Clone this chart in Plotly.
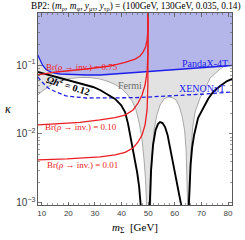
import plotly.graph_objects as go

# ---- data (m_Sigma [GeV], kappa) ----
panda_m = [8.5, 9.36, 10.38, 11.62, 13.87, 16.88, 20.64, 26.65, 31.92, 41.32, 50.71, 61.2, 69.51, 78.91, 81.6]
panda_k = [0.1396, 0.118, 0.0984, 0.0861, 0.0778, 0.0741, 0.0729, 0.0716, 0.0716, 0.0760, 0.0800, 0.0847, 0.0890, 0.0951, 0.0984]

xenon_m = [8.5, 10.1, 12.4, 15.38, 19.1, 26.65, 45.45, 60.1, 71.39, 81.6]
xenon_k = [0.0670, 0.0567, 0.0464, 0.0406, 0.0356, 0.0332, 0.0336, 0.0356, 0.0380, 0.0406]

fermi_m = [8.5, 11.24, 13.87, 16.88, 20.64, 24.40, 28.16, 31.92, 34.92, 37.56, 40.19, 42.07, 43.95, 45.45,
           46.77, 47.71, 48.46, 49.02, 49.47,
           50.90, 51.09, 51.47, 52.22, 53.16, 54.47, 55.98, 57.48, 58.98, 60.49, 61.62, 62.74, 63.68, 64.25, 64.62, 64.89,
           65.45, 65.75, 66.13, 66.69, 67.63, 69.51, 71.39, 73.27, 77.03, 81.6]
fermi_k = [0.0368, 0.0449, 0.0521, 0.0586, 0.0637, 0.0659, 0.0659, 0.0627, 0.0577, 0.0521, 0.0449, 0.0380, 0.0301, 0.0223,
           0.0135, 0.00819, 0.00420, 0.00216, 0.0008,
           0.0008, 0.00216, 0.00496, 0.0114, 0.0182, 0.0263, 0.0322, 0.0344, 0.0338, 0.0311, 0.0255, 0.0182, 0.0114, 0.00586, 0.00255, 0.0008,
           0.0008, 0.00255, 0.00586, 0.0122, 0.0208, 0.0332, 0.0449, 0.0648, 0.0875, 0.114]

omega1_m = [8.5, 12.74, 16.88, 20.26, 24.40, 29.29, 31.92, 35.30, 37.56, 39.81, 41.32, 42.44, 43.20, 44.32, 45.08, 45.83, 46.58, 47.33]
omega1_k = [0.0792, 0.0716, 0.0659, 0.0606, 0.0548, 0.0480, 0.0434, 0.0368, 0.0322, 0.0263, 0.0208, 0.0140, 0.00968, 0.00586, 0.00420, 0.00281, 0.00176, 0.0008]
omega2_m = [50.53, 51.09, 51.84, 52.78, 53.72, 54.47, 55.41, 56.35, 57.29, 58.23, 59.36, 60.49, 61.62, 62.74]
omega2_k = [0.0008, 0.00301, 0.00693, 0.0114, 0.0140, 0.0149, 0.0144, 0.0126, 0.00968, 0.00627, 0.00380, 0.00230, 0.00149, 0.0008]
omega3_m = [65.19, 65.56, 65.94, 66.50, 67.26, 68.76, 70.64, 72.52, 74.40, 77.03, 79.66, 81.6]
omega3_k = [0.0008, 0.00182, 0.00356, 0.00627, 0.00968, 0.0171, 0.0238, 0.0322, 0.0406, 0.0496, 0.0586, 0.0627]

br075_m = [8.5, 15.38, 26.65, 35.68, 41.32, 45.08, 46.95, 48.08, 49.02, 49.59, 49.89, 50.0]
br075_k = [0.0716, 0.0792, 0.0875, 0.0967, 0.109, 0.122, 0.135, 0.154, 0.182, 0.230, 0.321, 2.0]
br010_m = [8.5, 16.88, 24.40, 31.92, 37.56, 41.32, 44.32, 46.20, 47.71, 48.83, 49.59, 49.89, 50.0]
br010_k = [0.0135, 0.0140, 0.0147, 0.0160, 0.0173, 0.0188, 0.0223, 0.0281, 0.0368, 0.0513, 0.0792, 0.1396, 2.0]
br001_m = [8.5, 19.51, 31.92, 37.56, 41.32, 44.32, 46.20, 47.71, 48.83, 49.59, 49.89, 50.0]
br001_k = [0.00420, 0.00434, 0.00464, 0.00496, 0.00540, 0.00627, 0.00766, 0.00968, 0.0135, 0.0223, 0.0513, 2.0]

x_ticks = [10, 20, 30, 40, 50, 60, 70, 80]

RED = "rgb(236,30,36)"
BLUE = "rgb(30,30,235)"
SERIF = "Liberation Serif"

fig = go.Figure()

# Fermi excluded region (grey)
fig.add_trace(go.Scatter(x=fermi_m + [fermi_m[-1], fermi_m[0]], y=fermi_k + [3.0, 3.0],
                         fill="toself", fillcolor="rgb(226,226,226)", mode="lines",
                         line=dict(color="rgba(0,0,0,0)", width=0), hoverinfo="skip"))
fig.add_trace(go.Scatter(x=fermi_m, y=fermi_k, mode="lines",
                         line=dict(color="rgb(150,150,150)", width=0.8)))
# PandaX-4T excluded region
fig.add_trace(go.Scatter(x=panda_m + [panda_m[-1], panda_m[0]], y=panda_k + [3.0, 3.0],
                         fill="toself", fillcolor="rgb(180,182,234)", mode="lines",
                         line=dict(color="rgba(0,0,0,0)", width=0), hoverinfo="skip"))
fig.add_trace(go.Scatter(x=panda_m, y=panda_k, mode="lines", line=dict(color=BLUE, width=1.3)))
# XENONnT projection
fig.add_trace(go.Scatter(x=xenon_m, y=xenon_k, mode="lines",
                         line=dict(color=BLUE, width=1.3, dash="4px,2.5px")))
# relic density
for mm, kk in [(omega1_m, omega1_k), (omega2_m, omega2_k), (omega3_m, omega3_k)]:
    fig.add_trace(go.Scatter(x=mm, y=kk, mode="lines", line=dict(color="black", width=1.9)))
# Br contours
for mm, kk in [(br075_m, br075_k), (br010_m, br010_k), (br001_m, br001_k)]:
    fig.add_trace(go.Scatter(x=mm, y=kk, mode="lines", line=dict(color=RED, width=1.3)))

def ann(text, x, y, color, size=8, angle=0):
    fig.add_annotation(text=text, x=x, y=y, xref="paper", yref="paper", showarrow=False,
                       font=dict(family=SERIF, size=size, color=color), textangle=angle,
                       xanchor="center", yanchor="middle")

ann("Br(<i>ρ</i> → inv.) = 0.75", 0.227, 0.721, RED, size=9)
ann("Br(<i>ρ</i> → inv.) = 0.10", 0.222, 0.404, RED, size=9)
ann("Br(<i>ρ</i> → inv.) = 0.01", 0.227, 0.208, RED, size=9)
ann("<b><i>Ωh</i><sup>2</sup> = 0.12</b>", 0.155, 0.625, "black", size=10, angle=17)
ann("Fermi", 0.474, 0.625, "rgb(110,110,110)", size=10)
ann("PandaX-4T", 0.861, 0.737, BLUE, size=10)
ann("XENONnT", 0.845, 0.609, BLUE, size=10)

# title and axis titles
ann("BP2: (<i>m</i><sub>ρ</sub>, <i>m</i><sub>φ</sub>, <i>y</i><sub>μτ</sub>, <i>y</i><sub>τρ</sub>) = (100GeV, 130GeV, 0.035, 0.14)",
    0.505, 1.034, "black", size=9.3)
ann("<i>m</i><sub>Σ</sub>  [GeV]", 0.5, -0.12, "black", size=11)
ann("<i>κ</i>", -0.155, 0.5, "black", size=12)

axis_common = dict(showline=True, linecolor="rgb(90,90,90)", linewidth=1, mirror="allticks",
                   ticks="inside", tickcolor="rgb(90,90,90)", ticklen=3.5, tickwidth=0.8,
                   showgrid=False, zeroline=False,
                   tickfont=dict(family="Liberation Sans", size=8, color="rgb(60,60,60)"))

fig.update_xaxes(range=[8.6, 81.5], tickvals=x_ticks, ticktext=[str(v) for v in x_ticks],
                 minor=dict(ticks="inside", dtick=2, tick0=0, ticklen=2, tickcolor="rgb(90,90,90)", tickwidth=0.6),
                 **axis_common)
fig.update_yaxes(type="log", range=[-3.03, -0.246], dtick=1, exponentformat="power",
                 minor=dict(ticks="inside", ticklen=2, tickcolor="rgb(90,90,90)", tickwidth=0.6),
                 **axis_common)

fig.update_layout(width=245, height=240, margin=dict(l=38, r=13, t=13, b=35),
                  showlegend=False, plot_bgcolor="white", paper_bgcolor="white")

fig.write_html("out.html", config={"displayModeBar": False, "staticPlot": True},
               post_script="document.body.style.margin='0';document.body.style.overflow='hidden';")
